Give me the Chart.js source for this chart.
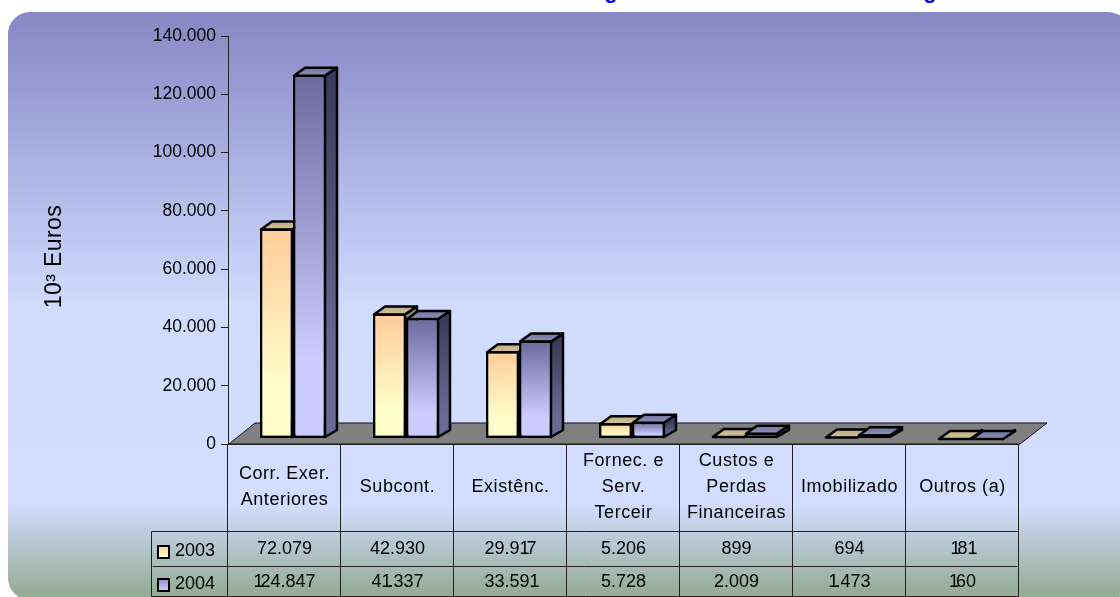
<!DOCTYPE html>
<html>
<head>
<meta charset="utf-8">
<style>
  html, body { margin: 0; padding: 0; background: #fff; overflow: hidden; }
  canvas { display: block; }
</style>
<script src="https://cdn.jsdelivr.net/npm/chart.js@4"></script>
</head>
<body>
<canvas id="chart" width="1120" height="597"></canvas>
<script>
const categories = [
  ["Corr. Exer.", "Anteriores"],
  ["Subcont."],
  ["Existênc."],
  ["Fornec. e", "Serv.", "Terceir"],
  ["Custos e", "Perdas", "Financeiras"],
  ["Imobilizado"],
  ["Outros (a)"]
];
const series2003 = [72079, 42930, 29917, 5206, 899, 694, 181];
const series2004 = [124847, 41337, 33591, 5728, 2009, 1473, 160];
const yearLabels = ["2003", "2004"];
const yTitle = "10³ Euros";
const FONT = '"Liberation Sans", Arial, sans-serif';

// the 3d look: bars sit a bit behind the axis line
const SHIFT_X = 8.5, SHIFT_Y = -5.5;
const DEPTH_X = 11, DEPTH_Y = 8;

function fmt(v) {
  return String(v).replace(/\B(?=(\d{3})+$)/g, ".");
}

// table numbers: the "1" sits tight against the next glyph in the original
function tightText(ctx, text, cx, y) {
  const tuck = 3;
  let w = 0;
  for (const ch of text) w += ctx.measureText(ch).width - (ch === "1" ? tuck : 0);
  let px = cx - w / 2;
  for (const ch of text) {
    ctx.fillText(ch, px, y);
    px += ctx.measureText(ch).width - (ch === "1" ? tuck : 0);
  }
}

function barFill(stops) {
  return function (c) {
    const y = c.chart.scales.y;
    if (!y || c.raw === undefined) return stops[1];
    const from = y.getPixelForValue(c.raw);
    if (!Number.isFinite(from) || !Number.isFinite(y.bottom)) return stops[1];
    const g = c.chart.ctx.createLinearGradient(0, from, 0, y.bottom);
    g.addColorStop(0, stops[0]);
    g.addColorStop(0.78, stops[1]);
    g.addColorStop(1, stops[1]);
    return g;
  };
}

const faces = [
  { top: "#cfc096", topDark: "#b8ab85", side: "#a58a68", sideLow: "#b09a70" },
  { top: "#8e8eb8", topDark: "#6f6f9c", side: "#3a3a5a", sideLow: "#6a6a96" }
];

function drawBoxSides(ctx, meta, f) {
  ctx.lineJoin = "round";
  ctx.lineWidth = 2.5;
  ctx.strokeStyle = "#000";
  meta.data.forEach(function (bar) {
    const l = bar.x - bar.width / 2, r = bar.x + bar.width / 2;
    const side = ctx.createLinearGradient(0, bar.y, 0, bar.base);
    side.addColorStop(0, f.side);
    side.addColorStop(0.8, f.sideLow);
    side.addColorStop(1, f.sideLow);
    ctx.beginPath();
    ctx.moveTo(r - 1, bar.y + 1);
    ctx.lineTo(r + DEPTH_X, bar.y - DEPTH_Y + 1);
    ctx.lineTo(r + DEPTH_X, bar.base - DEPTH_Y);
    ctx.lineTo(r - 1, bar.base - 1);
    ctx.closePath();
    ctx.fillStyle = side;
    ctx.fill();
    ctx.stroke();
    const top = ctx.createLinearGradient(0, bar.y - DEPTH_Y, 0, bar.y);
    top.addColorStop(0, f.topDark);
    top.addColorStop(1, f.top);
    ctx.beginPath();
    ctx.moveTo(l + 1, bar.y + 1);
    ctx.lineTo(l + 1 + DEPTH_X, bar.y - DEPTH_Y + 1);
    ctx.lineTo(r + DEPTH_X, bar.y - DEPTH_Y + 1);
    ctx.lineTo(r - 1, bar.y + 1);
    ctx.closePath();
    ctx.fillStyle = top;
    ctx.fill();
    ctx.stroke();
  });
}

const box3d = {
  id: "box3d",
  beforeDraw(chart) {
    const ctx = chart.ctx;
    // panel
    const g = ctx.createLinearGradient(0, 12, 0, 597);
    g.addColorStop(0, "#8787c3");
    g.addColorStop(0.2, "#a3a8dc");
    g.addColorStop(0.5, "#d0dbfe");
    g.addColorStop(0.84, "#d2ddff");
    g.addColorStop(1, "#93aa93");
    ctx.save();
    ctx.fillStyle = g;
    ctx.beginPath();
    ctx.roundRect(8, 12, 1122, 588, 22);
    ctx.fill();
    // what is left of the title, cut by the top of the picture
    ctx.fillStyle = "#0000ff";
    ctx.font = "bold 22px " + FONT;
    ctx.textAlign = "center";
    ctx.textBaseline = "alphabetic";
    ctx.fillText("g", 611, -2);
    ctx.fillText("g", 930, -2);
    // y axis title sits lower than the middle of the axis
    ctx.fillStyle = "#000";
    ctx.font = "23px " + FONT;
    ctx.letterSpacing = "0.4px";
    ctx.translate(61, 256.5);
    ctx.rotate(-Math.PI / 2);
    ctx.fillText(yTitle, 0, 0);
    ctx.restore();
  },
  beforeDatasetsDraw(chart) {
    const ctx = chart.ctx, a = chart.chartArea;
    ctx.save();
    ctx.beginPath();
    ctx.moveTo(a.left + 1, a.bottom);
    ctx.lineTo(a.left + 27, a.bottom - 21);
    ctx.lineTo(a.right + 28, a.bottom - 21);
    ctx.lineTo(a.right + 1, a.bottom);
    ctx.closePath();
    ctx.fillStyle = "#808080";
    ctx.fill();
    ctx.strokeStyle = "#111";
    ctx.lineWidth = 1;
    ctx.stroke();
    ctx.restore();
    // draw 2003 first so 2004 overlaps it; chart.js would do it the other way
    ctx.save();
    ctx.translate(SHIFT_X, SHIFT_Y);
    [0, 1].forEach(function (i) {
      const meta = chart.getDatasetMeta(i);
      drawBoxSides(ctx, meta, faces[i]);
      meta.controller.draw();
    });
    ctx.restore();
    return false;
  },
  afterDraw(chart) {
    // data table under the plot
    const ctx = chart.ctx, x = chart.scales.x, a = chart.chartArea;
    const step = x.width / categories.length;
    const rowA = 531.5, rowB = 566.5, tableEnd = 596.5;
    const legendLeft = 151.5;
    ctx.save();
    ctx.strokeStyle = "#222";
    ctx.lineWidth = 1;
    ctx.beginPath();
    for (let i = 0; i <= categories.length; i++) {
      const px = Math.round(a.left + step * i) - 0.5;
      ctx.moveTo(px, a.bottom);
      ctx.lineTo(px, tableEnd);
    }
    ctx.moveTo(a.left, a.bottom + 0.5);
    ctx.lineTo(a.right, a.bottom + 0.5);
    ctx.moveTo(legendLeft, rowA);
    ctx.lineTo(a.right, rowA);
    ctx.moveTo(legendLeft + 1, rowB);
    ctx.lineTo(a.right - 2, rowB);
    ctx.moveTo(legendLeft, rowA);
    ctx.lineTo(legendLeft, tableEnd);
    ctx.moveTo(legendLeft, tableEnd);
    ctx.lineTo(a.right, tableEnd);
    ctx.stroke();

    ctx.fillStyle = "#000";
    ctx.font = "18px " + FONT;
    ctx.textBaseline = "middle";
    ctx.textAlign = "center";
    categories.forEach(function (lines, i) {
      const cx = x.getPixelForTick(i);
      ctx.letterSpacing = "0.55px";
      lines.forEach(function (t, j) {
        ctx.fillText(t, cx, 487.5 + (j - (lines.length - 1) / 2) * 26);
      });
      ctx.letterSpacing = "0px";
    });
    ctx.textAlign = "left";
    categories.forEach(function (lines, i) {
      const cx = x.getPixelForTick(i);
      tightText(ctx, fmt(series2003[i]), cx, 549.5);
      tightText(ctx, fmt(series2004[i]), cx, 582.5);
    });

    [[551, "#ffcc99", "#ffffcc"], [584, "#8f8fc0", "#ccccff"]].forEach(function (row, i) {
      const g = ctx.createLinearGradient(0, row[0] - 5, 0, row[0] + 6);
      g.addColorStop(0, row[1]);
      g.addColorStop(1, row[2]);
      ctx.fillStyle = g;
      ctx.strokeStyle = "#000";
      ctx.lineWidth = 2;
      ctx.fillRect(158, row[0] - 5, 11, 12);
      ctx.strokeRect(158, row[0] - 5, 11, 12);
      ctx.fillStyle = "#000";
      ctx.fillText(yearLabels[i], 175, row[0]);
    });
    ctx.restore();
  }
};

new Chart(document.getElementById("chart"), {
  type: "bar",
  data: {
    labels: categories,
    datasets: [
      {
        label: yearLabels[0],
        data: series2003,
        clip: false,
        backgroundColor: barFill(["#ffcc99", "#ffffcc"]),
        borderColor: "#000",
        borderWidth: 2.5,
        borderSkipped: false
      },
      {
        label: yearLabels[1],
        data: series2004,
        clip: false,
        backgroundColor: barFill(["#6a6a9e", "#ccccff"]),
        borderColor: "#000",
        borderWidth: 2.5,
        borderSkipped: false
      }
    ]
  },
  options: {
    responsive: false,
    animation: false,
    layout: { padding: { left: 44, right: 101, top: 36, bottom: 153 } },
    categoryPercentage: 0.584,
    barPercentage: 1,
    plugins: { legend: { display: false }, title: { display: false }, tooltip: { enabled: false } },
    scales: {
      x: {
        ticks: { display: false },
        grid: { display: false },
        border: { display: false },
        afterFit: function (s) { s.height = 0; }
      },
      y: {
        min: 0,
        max: 140000,
        afterFit: function (s) { s.width = 184; },
        ticks: {
          stepSize: 20000,
          padding: 5,
          color: "#000",
          font: { family: FONT, size: 17.5 },
          callback: function (v) { return fmt(v); }
        },
        grid: { drawOnChartArea: false, drawTicks: true, tickLength: 7, tickColor: "#222" },
        border: { color: "#222" }
      }
    }
  },
  plugins: [box3d]
});
</script>
</body>
</html>
